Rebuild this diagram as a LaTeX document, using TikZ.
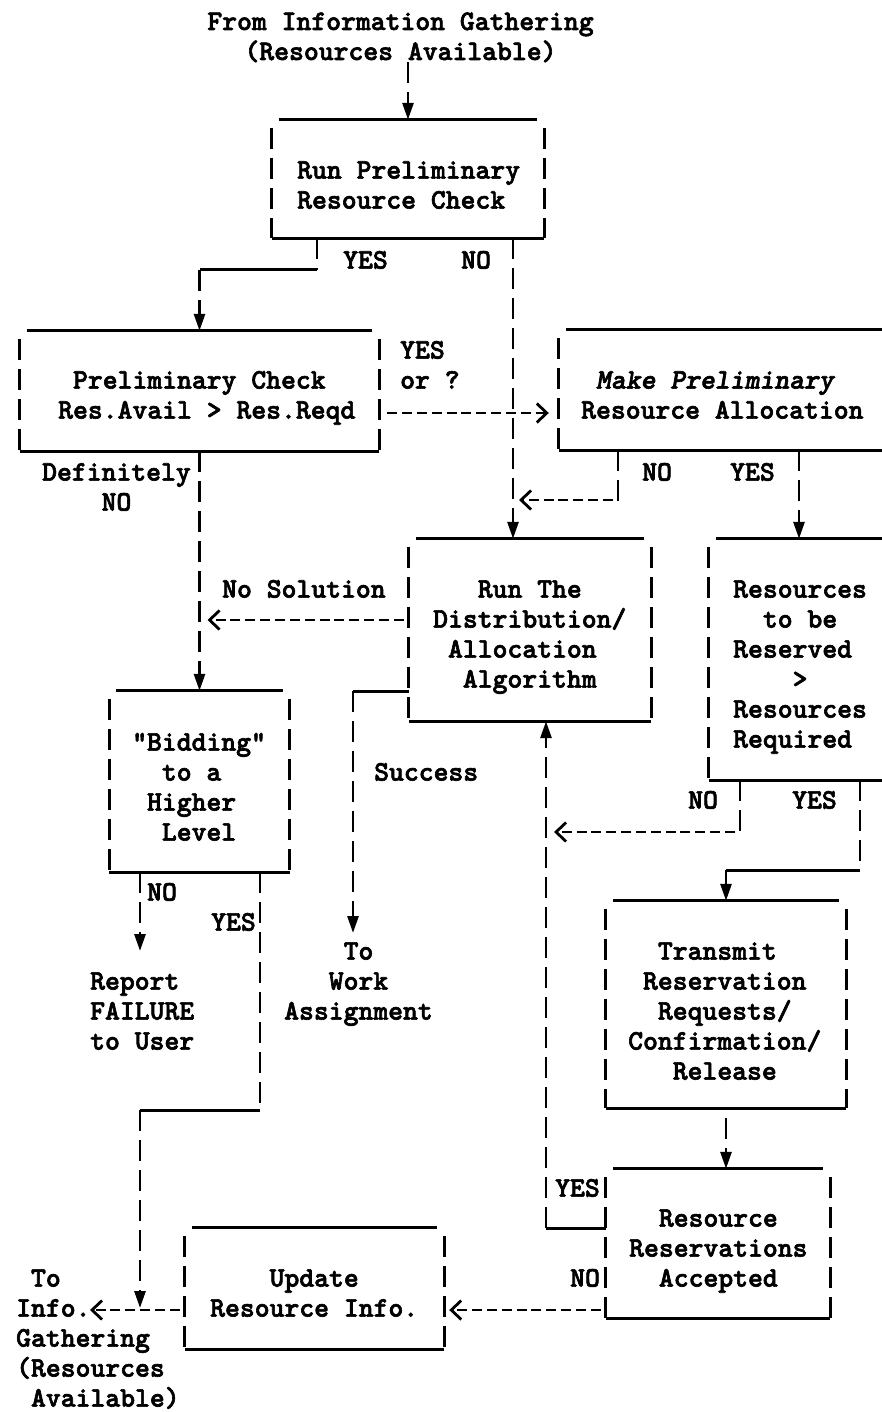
\documentclass[tikz,border=0pt]{standalone}
\usepackage{fontspec}
\usetikzlibrary{arrows.meta}
\newfontfamily\twbase[FakeBold=2.2]{lmmonolt10-bold.otf}
\newfontfamily\twsl[FakeBold=2.2]{lmmonolt10-boldoblique.otf}
\newcommand\twfont{\twbase\fontsize{28.3}{30}\selectfont}
\newcommand\fullbox[1]{%
  \draw[uline] ([xshift=7pt]#1.north west) -- ([xshift=-7pt]#1.north east);
  \draw[vbar] ([yshift=-8pt]#1.north west) -- (#1.south west);
  \draw[vbar] ([yshift=-8pt]#1.north east) -- (#1.south east);
  \draw[uline] (#1.south west) -- (#1.south east);}
\newcommand\openbox[1]{%
  \draw[uline] ([xshift=7pt]#1.north west) -- (#1.north east);
  \draw[vbar] ([yshift=-8pt]#1.north west) -- (#1.south west);
  \draw[uline] (#1.south west) -- (#1.south east);}
\begin{document}
\begin{tikzpicture}[x=1pt,y=-1pt,
  uline/.style={line width=3pt},
  vbar/.style={line width=2.8pt, dash pattern=on 21pt off 9pt},
  varrow/.style={vbar, -{Triangle[length=17pt,width=11pt]}},
  harrow/.style={line width=2.8pt, dash pattern=on 10pt off 4.85pt, -{Straight Barb[length=10pt,width=19pt,line width=2.8pt]}},
  txt/.style={font=\twfont, inner sep=0pt, anchor=base west, align=left},
  boxshape/.style={rectangle, inner sep=0pt, draw=none}]
\fill[white] (0,0) rectangle (881,1412);
\useasboundingbox (0,0) rectangle (881,1412);

% box shapes
\node[boxshape, minimum width=272pt, minimum height=118pt] (b1) at (408,179) {};
\node[boxshape, minimum width=359pt, minimum height=120pt] (b2) at (199.5,391) {};
\node[boxshape, minimum width=242pt, minimum height=182pt] (b3) at (530,630) {};
\node[boxshape, minimum width=344pt, minimum height=120pt] (b4) at (731,390) {};
\node[boxshape, minimum width=194pt, minimum height=241pt] (b5) at (806,659.5) {};
\node[boxshape, minimum width=240pt, minimum height=207pt] (b6) at (726,1004.5) {};
\node[boxshape, minimum width=224pt, minimum height=149pt] (b7) at (718,1243.5) {};
\node[boxshape, minimum width=259pt, minimum height=121pt] (b8) at (314.5,1288.5) {};
\node[boxshape, minimum width=180pt, minimum height=181pt] (b9) at (199.5,781.5) {};
\fullbox{b1}\fullbox{b2}\fullbox{b3}\openbox{b4}\openbox{b5}
\fullbox{b6}\fullbox{b7}\fullbox{b8}\fullbox{b9}

% box texts (positioned at the baseline of the last line)
\node[txt, anchor=base, align=center] (src) at (400.5,60) {From Information Gathering\\(Resources Available)};
\node[txt] (b1t) at (297,208.6) {Run Preliminary\\Resource Check};
\node[txt] (b2t) at (58,418.6) {~Preliminary Check\\Res.Avail > Res.Reqd};
\node[txt] (b3t) at (433,687.6) {~~~Run The\\Distribution/\\~Allocation\\~~Algorithm};
\node[txt] (b4t) at (581,418.6) {~{\twsl Make Preliminary}\\Resource Allocation};
\node[txt] (b5t) at (733,747.6) {Resources\\~~to be\\Reserved\\~~~~>\\Resources\\Required};
\node[txt] (b6t) at (628,1079.6) {~~Transmit\\~Reservation\\~~Requests/\\Confirmation/\\~~~Release};
\node[txt] (b7t) at (629,1286.6) {~~Resource\\Reservations\\~~Accepted};
\node[txt] (b8t) at (210,1316.6) {~~~~Update\\Resource Info.};
\node[txt] (b9t) at (132,840.6) {"Bidding"\\~~to a\\~Higher\\~~Level};
\node[txt] (rep) at (90,1049.6) {Report\\FAILURE\\to User};
\node[txt] (twk) at (284,1019.6) {~~~~To\\~~~Work\\Assignment};
\node[txt] (inf) at (16,1406.6) {~To\\Info.\\Gathering\\(Resources\\~Available)};

% labels
\node[txt] (l1y) at (343,268.6) {YES};
\node[txt] (l1n) at (461,268.6) {NO};
\node[txt] (l2y) at (400,388.6) {YES\\or ?};
\node[txt] (l2n) at (42,510.6) {Definitely\\~~~~NO};
\node[txt] (l4n) at (642,480.6) {NO};
\node[txt] (l4y) at (730,480.6) {YES};
\node[txt] (l3n) at (222,597.6) {No Solution};
\node[txt] (l3s) at (374,780.6) {Success};
\node[txt] (l5n) at (688,808.6) {NO};
\node[txt] (l5y) at (792,808.6) {YES};
\node[txt] (l9n) at (147,900.6) {NO};
\node[txt] (l9y) at (211,930.6) {YES};
\node[txt] (l7y) at (555,1196.6) {YES};
\node[txt] (l7n) at (570,1286.6) {NO};

% connectors
\draw[varrow] (src.south -| b1.north) -- (b1.north);
% B1 YES
\coordinate (j1) at (317,270);
\coordinate (j2) at (199.5,270);
\draw[vbar] (b1.south -| j1) -- (j1);
\draw[uline] (j1) -- (j2);
\draw[varrow] (j2) -- (b2.north);
% B1 NO
\coordinate (j3) at (513,240);
\draw[varrow] (b1.south -| j3) -- (b3.north -| j3);
% B2 -> B4
\coordinate (r413) at (0,413);
\draw[harrow, shorten <=8pt, shorten >=10pt] (b2.east |- r413) -- (b4.west |- r413);
% B2 definitely NO
\draw[varrow] (b2.south) -- (b9.north);
% B4 NO
\coordinate (j4) at (618,508);
\coordinate (j5) at (618,500);
\draw[vbar] (b4.south -| j4) -- (j4);
\draw[harrow, shorten <=5pt, shorten >=6pt] (j5) -- (j5 -| j3);
% B4 YES
\coordinate (j6) at (799,0);
\draw[varrow] (b4.south -| j6) -- (b5.north -| j6);
% B3 no solution
\coordinate (r620) at (0,620);
\draw[harrow, shorten <=5pt, shorten >=8pt] (b3.west |- r620) -- (b2.south |- r620);
% B3 success
\coordinate (j7) at (353,691);
\coordinate (j8) at (353,933);
\draw[uline] (b3.west |- j7) -- (j7);
\draw[varrow] (j7) -- (j8);
% B5 NO
\coordinate (j9) at (740,840);
\coordinate (j10) at (740,832);
\coordinate (j11) at (546,832);
\draw[vbar] (b5.south -| j9) -- (j9);
\draw[harrow, shorten <=5pt, shorten >=8pt] (j10) -- (j11);
% B5 YES
\coordinate (j12) at (860,870);
\coordinate (j13) at (726,870);
\draw[vbar] (b5.south -| j12) -- (j12);
\draw[uline] (j12) -- (j13);
\draw[varrow] (j13) -- (b6.north);
% B6 -> B7
\draw[varrow] ([yshift=-10pt]b6.south) -- (b7.north -| b6.south);
% B7 YES
\coordinate (j14) at (546,1228);
\draw[uline] (b7.west |- j14) -- (j14);
\draw[varrow] (j14) -- (b3.south -| j14);
% B7 NO
\coordinate (r1310) at (0,1310);
\draw[harrow, shorten <=5pt, shorten >=5pt] (b7.west |- r1310) -- (b8.east |- r1310);
% B8 -> info gathering
\coordinate (j15) at (90,1310);
\draw[harrow, shorten <=5pt] (b8.west |- r1310) -- (j15);
% B9 NO
\coordinate (j16) at (140,951);
\draw[varrow] (b9.south -| j16) -- (j16);
% B9 YES
\coordinate (j17) at (260,1110);
\coordinate (j18) at (140,1110);
\coordinate (j19) at (140,1308);
\draw[vbar] (b9.south -| j17) -- (j17);
\draw[uline] (j17) -- (j18);
\draw[varrow] (j18) -- (j19);
\end{tikzpicture}
\end{document}
